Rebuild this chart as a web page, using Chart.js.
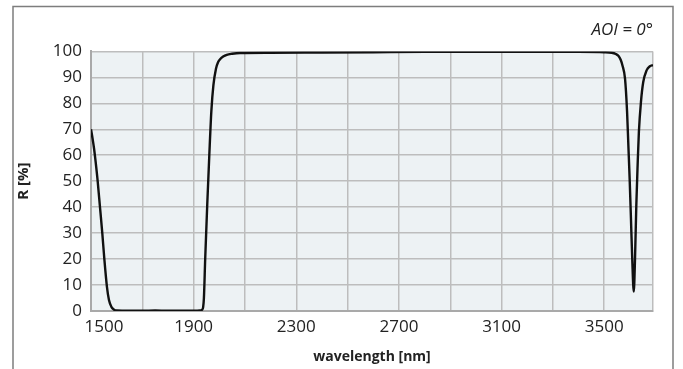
<!DOCTYPE html>
<html>
<head>
<meta charset="utf-8">
<script src="https://cdn.jsdelivr.net/npm/chart.js@4/dist/chart.umd.min.js"></script>
<style>
  html, body { margin: 0; padding: 0; background: #ffffff; }
  #wrap { width: 683px; height: 369px; position: relative; }
</style>
</head>
<body>
<div id="wrap"><canvas id="c" width="683" height="369"></canvas></div>
<script>
// ---- data ----
const wavelength = [1500,1506,1512,1518,1526,1535,1544,1552,1562,1570,1580,1590,1600,1650,1700,1750,1800,1850,1900,1925,1933,1937,1940,1945,1953,1961,1969,1977,1987,1995,2003,2015,2029,2050,2081,2200,2400,2600,2800,3000,3200,3400,3500,3529,3545,3555,3564,3571,3581,3589,3594,3599,3604,3609,3615,3620,3625,3630,3635,3643,3652,3665,3678,3690];
const reflectance = [70,66.5,62.5,57.5,50,40,30,20,9.4,4.2,1.5,0.5,0.2,0.1,0.1,0.2,0.1,0.1,0.1,0.2,0.5,1.5,5,20,41,60,77,87,93.3,95.8,97,98,98.7,99.1,99.4,99.5,99.6,99.7,99.8,99.8,99.8,99.8,99.7,99.5,99,98.3,96.8,94.6,89.5,76.7,63.8,51,35.8,20.4,7.5,20.4,40.8,56,69,80.5,88.2,92.7,94.3,94.7];
const xGridTicks = [1500,1700,1900,2100,2300,2500,2700,2900,3100,3300,3500,3690];
const xTickLabels = [1500,1900,2300,2700,3100,3500];
const yTicks = [0,10,20,30,40,50,60,70,80,90,100];
const xTitle = 'wavelength [nm]';
const yTitle = 'R [%]';
const noteText = 'AOI = 0°';

const points = wavelength.map((w, i) => ({x: w, y: reflectance[i]}));
const FONT = "'Open Sans', 'DejaVu Sans', sans-serif";

const decor = {
  id: 'decor',
  beforeDraw(chart) {
    const {ctx, chartArea: a} = chart;
    ctx.save();
    ctx.fillStyle = '#edf2f4';
    ctx.fillRect(a.left, a.top, a.right - a.left, a.bottom - a.top);
    ctx.restore();
  },
  afterDraw(chart) {
    const {ctx} = chart;
    const xs = chart.scales.x;
    ctx.save();
    // outer frame
    ctx.strokeStyle = '#7d7d7d';
    ctx.lineWidth = 1.5;
    ctx.beginPath();
    ctx.moveTo(13, 369);
    ctx.lineTo(13, 6.5);
    ctx.lineTo(673, 6.5);
    ctx.lineTo(673, 369);
    ctx.stroke();
    // first x tick label, shifted right as in the reference
    ctx.fillStyle = '#222222';
    ctx.font = "17px " + FONT;
    ctx.textAlign = 'center';
    ctx.textBaseline = 'middle';
    ctx.fillText(String(xTickLabels[0]), xs.getPixelForValue(xTickLabels[0]) + 13, 327);
    ctx.restore();
  }
};

new Chart(document.getElementById('c'), {
  type: 'line',
  data: {
    datasets: [{
      data: points,
      borderColor: '#111111',
      borderWidth: 2.4,
      pointRadius: 0,
      fill: false,
      cubicInterpolationMode: 'monotone',
      tension: 0.4
    }]
  },
  options: {
    responsive: false,
    animation: false,
    devicePixelRatio: 1,
    layout: { padding: { left: 13, right: 30, top: 0, bottom: 0 } },
    plugins: {
      legend: { display: false },
      tooltip: { enabled: false },
      title: {
        display: true,
        text: noteText,
        align: 'end',
        color: '#222222',
        font: { family: FONT, size: 17, style: 'italic', weight: 'normal', lineHeight: 1.2 },
        padding: { top: 20, bottom: 11 }
      }
    },
    scales: {
      x: {
        type: 'linear',
        min: 1500,
        max: 3690,
        afterFit(s) { s.height = 58; },
        afterBuildTicks(s) { s.ticks = xGridTicks.map(v => ({value: v})); },
        ticks: {
          autoSkip: false,
          maxRotation: 0,
          padding: 6,
          color: '#222222',
          font: { family: FONT, size: 17 },
          callback: function (v) {
            const r = Math.round(v);
            return (xTickLabels.includes(r) && r !== xTickLabels[0]) ? String(r) : '';
          }
        },
        grid: { color: '#bdbdbd', lineWidth: 1.5, drawTicks: false },
        border: { color: '#a9a9a9', width: 2 },
        title: {
          display: true,
          text: xTitle,
          color: '#222222',
          font: { family: FONT, size: 14, weight: 'bold', lineHeight: 1.2 },
          padding: { top: 0, bottom: 4 }
        }
      },
      y: {
        type: 'linear',
        min: 0,
        max: 100,
        afterFit(s) { s.width = 78; },
        afterBuildTicks(s) { s.ticks = yTicks.map(v => ({value: v})); },
        ticks: {
          padding: 9,
          color: '#222222',
          font: { family: FONT, size: 17 }
        },
        grid: { color: '#bdbdbd', lineWidth: 1.5, drawTicks: false },
        border: { color: '#a9a9a9', width: 2 },
        title: {
          display: true,
          text: yTitle,
          color: '#222222',
          font: { family: FONT, size: 15, weight: 'bold', lineHeight: 1.2 },
          padding: { top: 2, bottom: 0 }
        }
      }
    }
  },
  plugins: [decor]
});
</script>
</body>
</html>
